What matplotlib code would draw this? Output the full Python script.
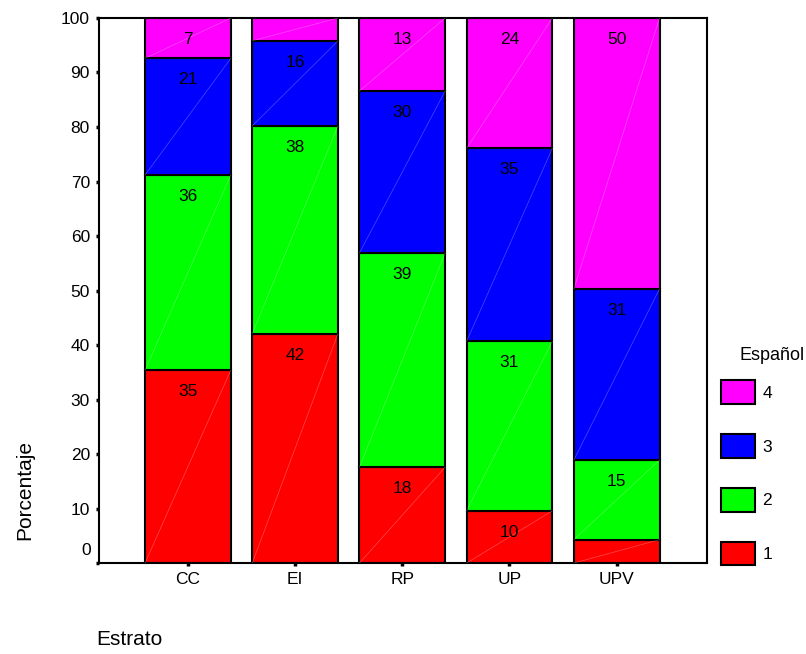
import matplotlib as mpl
mpl.use('Agg')

import matplotlib.pyplot as plt
import numpy as np

plt.rcParams['font.family'] = ['Liberation Sans', 'DejaVu Sans']

# percentage of each Español level within each stratum
estratos = ['CC', 'EI', 'RP', 'UP', 'UPV']
niveles = ['1', '2', '3', '4']
nivel_1 = [35.4, 42.1, 17.6, 9.6, 4.3]
nivel_2 = [35.8, 38.1, 39.3, 31.1, 14.6]
nivel_3 = [21.4, 15.6, 29.7, 35.4, 31.4]
nivel_4 = [7.4, 4.2, 13.4, 23.9, 49.7]
colores = ['#ff0000', '#00ff00', '#0000ff', '#ff00ff']

series = [nivel_1, nivel_2, nivel_3, nivel_4]
fs = 12.5

fig = plt.figure(figsize=(8.06, 6.54), dpi=100)
ax = fig.add_axes([0.1228, 0.139, 0.754, 0.8335])

x = np.arange(len(estratos))
width = 0.8
bottom = np.zeros(len(estratos))
handles = []
for vals, col, lab in zip(series, colores, niveles):
    vals = np.array(vals)
    bars = ax.bar(x, vals, width, bottom=bottom, color=col,
                  edgecolor='black', linewidth=1.5, label=lab, zorder=2)
    handles.append(bars)
    for xi, b, v in zip(x, bottom, vals):
        # faint diagonal across each segment
        ax.plot([xi - width / 2, xi + width / 2], [b, b + v], color='white',
                lw=0.5, alpha=0.3, zorder=3)
        if v >= 5:
            ax.annotate(f'{round(v)}', xy=(xi, b + v), xytext=(0, -15.5),
                        textcoords='offset points', ha='center', va='center',
                        fontsize=fs, zorder=4)
    bottom += vals

ax.set_xlim(-0.83, 4.84)
ax.set_ylim(0, 100)
ax.set_xticks(x)
ax.set_xticklabels(estratos, fontsize=fs)
ax.set_yticks(np.arange(0, 101, 10))
ax.set_yticklabels([''] + [str(v) for v in range(10, 101, 10)], fontsize=fs)
ax.annotate('0', xy=(0, 0), xycoords=('axes fraction', 'data'),
            xytext=(-6, 4), textcoords='offset points',
            ha='right', va='bottom', fontsize=fs)
ax.tick_params(axis='both', direction='out', length=2.5, width=2.5, pad=4)
for s in ax.spines.values():
    s.set_linewidth(1.5)

ax.legend(handles[::-1], niveles[::-1],
          loc='upper left', bbox_to_anchor=(1.023, 0.335),
          frameon=False, fontsize=fs, borderpad=0,
          handlelength=2.0, handleheight=1.7, labelspacing=1.75,
          handletextpad=0.4, borderaxespad=0)

fig.text(0.918, 0.457, 'Español', ha='left', va='center', fontsize=13)
fig.text(0.031, 0.25, 'Porcentaje', rotation=90, ha='center', va='center',
         fontsize=15)
fig.text(0.12, 0.008, 'Estrato', ha='left', va='bottom', fontsize=15)

fig.savefig('out.png', dpi=100)
